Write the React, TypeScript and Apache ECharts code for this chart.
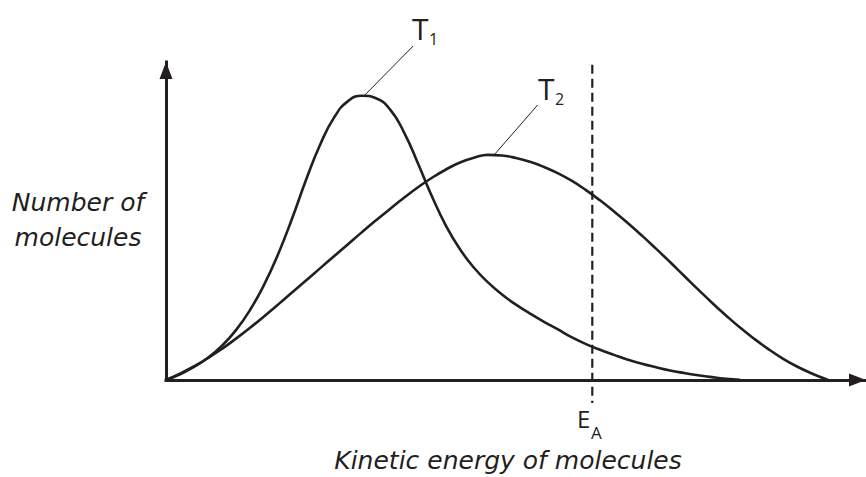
import React, { useEffect, useRef } from "react";
import * as echarts from "echarts";

// Kinetic energy (arbitrary units) and number of molecules (arbitrary units)
const T1_ENERGY = [0, 2, 4, 6, 8, 10, 12, 14, 16, 18, 20, 22, 24, 26, 28, 30, 32, 34, 36, 38, 40, 42, 44, 46, 48, 50, 52, 54, 56, 58, 60, 62, 64, 66, 68, 70, 72, 74, 76, 78, 80, 82];
const T1_COUNT = [0, 1.8, 4.1, 7.0, 10.8, 15.7, 22.0, 29.9, 39.5, 50.7, 62.9, 73.9, 82.5, 87.7, 89.4, 88.6, 85.1, 77.9, 68.1, 57.7, 48.5, 41.1, 35.3, 30.7, 26.9, 23.7, 20.9, 18.3, 15.9, 13.4, 11.3, 9.5, 7.9, 6.4, 5.1, 4.0, 3.0, 2.2, 1.5, 0.9, 0.4, 0.05];

const T2_ENERGY = [0, 2, 4, 6, 8, 10, 12, 14, 16, 18, 20, 22, 24, 26, 28, 30, 32, 34, 36, 38, 40, 42, 44, 46, 48, 50, 52, 54, 56, 58, 60, 62, 64, 66, 68, 70, 72, 74, 76, 78, 80, 82, 84, 86, 88, 90, 92, 94.6];
const T2_COUNT = [0, 2.0, 4.3, 6.9, 9.8, 13.0, 16.4, 20.0, 23.7, 27.5, 31.3, 35.1, 38.9, 42.7, 46.5, 50.2, 53.8, 57.3, 60.6, 63.6, 66.2, 68.4, 69.9, 70.8, 70.6, 69.8, 68.6, 67.0, 65.0, 62.6, 59.7, 56.5, 53.0, 49.3, 45.4, 41.3, 37.1, 32.8, 28.5, 24.3, 20.3, 16.5, 13.0, 9.8, 6.9, 4.4, 2.3, 0];

// Activation energy marker
const EA = 60.9;
const EA_LINE_COUNT = [99.1, -7.2];

// Leader lines from the curve peaks to their labels
const T1_LEADER_ENERGY = [28.4, 35.3];
const T1_LEADER_COUNT = [89.6, 105.0];
const T2_LEADER_ENERGY = [47.0, 53.1];
const T2_LEADER_COUNT = [71.1, 86.5];

const INK = "#231f20";
const LABEL_FONT = '"Open Sans", "DejaVu Sans", sans-serif';
const TITLE_FONT = '"DejaVu Sans", sans-serif';

const zip = (xs: number[], ys: number[]) => xs.map((x, i) => [x, ys[i]]);

export default function App() {
  const ref = useRef<HTMLDivElement>(null);

  useEffect(() => {
    const chart = echarts.init(ref.current!, null, { renderer: "svg" });
    const axisLine = {
      show: true,
      onZero: false,
      symbol: ["none", "triangle"],
      symbolSize: [13, 17],
      symbolOffset: [0, -8.5],
      lineStyle: { color: INK, width: 3, cap: "square" },
    };
    const curveStyle = { color: INK, width: 2.6 };
    const txt = (text: string, x: number, y: number, font: string, align = "left", extra: any = {}) => ({
      type: "text",
      x,
      y,
      style: { text, font, fill: INK, textAlign: align, textVerticalAlign: "middle", ...extra },
    });
    chart.setOption({
      animation: false,
      backgroundColor: "#ffffff",
      grid: { left: 166, right: 0, top: 62, bottom: 97 },
      xAxis: {
        type: "value",
        min: 0,
        max: 100,
        axisLine,
        axisTick: { show: false },
        axisLabel: { show: false },
        splitLine: { show: false },
      },
      yAxis: {
        type: "value",
        min: 0,
        max: 100,
        axisLine,
        axisTick: { show: false },
        axisLabel: { show: false },
        splitLine: { show: false },
      },
      series: [
        {
          name: "T1",
          type: "line",
          data: zip(T1_ENERGY, T1_COUNT),
          smooth: 0.5,
          showSymbol: false,
          clip: false,
          lineStyle: curveStyle,
          z: 3,
        },
        {
          name: "T2",
          type: "line",
          data: zip(T2_ENERGY, T2_COUNT),
          smooth: 0.5,
          showSymbol: false,
          clip: false,
          lineStyle: curveStyle,
          z: 3,
        },
        {
          name: "EA",
          type: "line",
          data: EA_LINE_COUNT.map((y) => [EA, y]),
          showSymbol: false,
          clip: false,
          lineStyle: { color: INK, width: 2.2, type: [9, 5] },
          z: 2,
        },
        {
          name: "T1 leader",
          type: "line",
          data: zip(T1_LEADER_ENERGY, T1_LEADER_COUNT),
          showSymbol: false,
          clip: false,
          lineStyle: { color: INK, width: 1 },
        },
        {
          name: "T2 leader",
          type: "line",
          data: zip(T2_LEADER_ENERGY, T2_LEADER_COUNT),
          showSymbol: false,
          clip: false,
          lineStyle: { color: INK, width: 1 },
        },
      ],
      graphic: [
        txt("T", 412, 28, `30px ${LABEL_FONT}`),
        txt("1", 429, 38.5, `16px ${LABEL_FONT}`),
        txt("T", 538, 88, `30px ${LABEL_FONT}`),
        txt("2", 555, 99, `16px ${LABEL_FONT}`),
        txt("E", 577, 418, `24px ${LABEL_FONT}`),
        txt("A", 591, 432, `17px ${LABEL_FONT}`),
        txt("Number of\nmolecules", 78, 220, `italic 25px ${TITLE_FONT}`, "center", { lineHeight: 35 }),
        txt("Kinetic energy of molecules", 508, 460, `italic 25px ${TITLE_FONT}`, "center"),
      ],
    });
    return () => chart.dispose();
  }, []);

  return (
    <div
      ref={ref}
      style={{ position: "absolute", left: 0, top: 0, width: 866, height: 477 }}
    />
  );
}
